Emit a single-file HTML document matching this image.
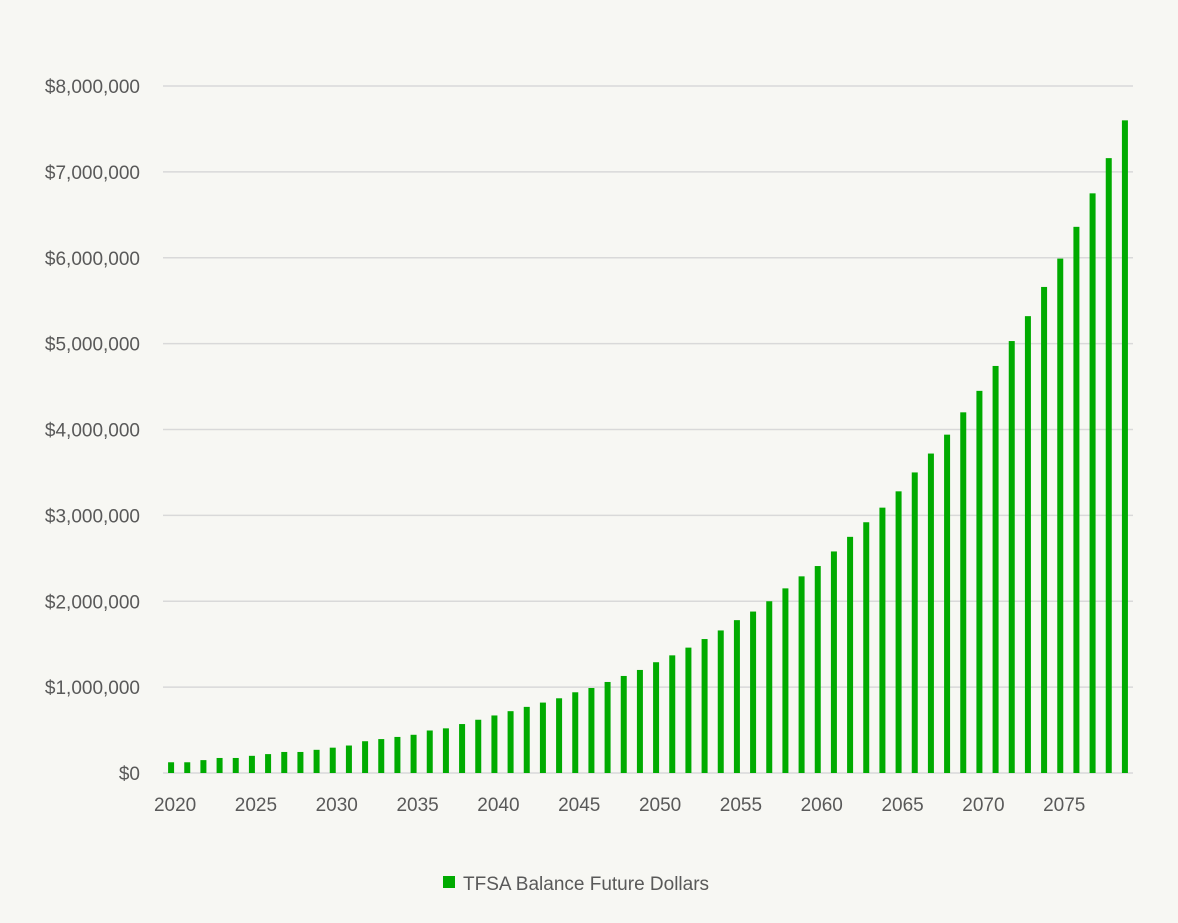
<!DOCTYPE html>
<html><head><meta charset="utf-8"><style>
body{margin:0;background:#f7f7f3;}
svg{display:block;font-family:"Liberation Sans",sans-serif;}
</style></head><body>
<svg id="chart" width="1178" height="923">
<rect width="1178" height="923" fill="#f7f7f3"/>
<g id="grid"></g><g id="bars"></g><g id="ylabels"></g><g id="xlabels"></g>
<g>
<rect x="443" y="876" width="12" height="12" fill="#00ab00"/>
<text x="463" y="890" font-size="19" fill="#595959">TFSA Balance Future Dollars</text>
</g>
</svg>
<script>
const years=[];for(let y=2020;y<=2079;y++)years.push(y);
const balances=[0.125,0.125,0.15,0.175,0.175,0.2,0.22,0.245,0.245,0.27,0.295,0.32,0.37,0.395,0.42,0.445,0.495,0.52,0.57,0.62,0.67,0.72,0.77,0.82,0.87,0.94,0.99,1.06,1.13,1.2,1.29,1.37,1.46,1.56,1.66,1.78,1.88,2.0,2.15,2.29,2.41,2.58,2.75,2.92,3.09,3.28,3.5,3.72,3.94,4.2,4.45,4.74,5.03,5.32,5.66,5.99,6.36,6.75,7.16,7.6].map(v=>v*1e6);
const yTicks=[0,1e6,2e6,3e6,4e6,5e6,6e6,7e6,8e6];
const yTickLabels=["$0","$1,000,000","$2,000,000","$3,000,000","$4,000,000","$5,000,000","$6,000,000","$7,000,000","$8,000,000"];
const NS="http://www.w3.org/2000/svg";
const x0=163,x1=1133,yBase=773,yTop=86,yMax=8e6;
const band=(x1-x0)/years.length;
const xS=i=>x0+band*(i+0.5);
const yS=v=>yBase-(v/yMax)*(yBase-yTop);
function mk(t,a){const e=document.createElementNS(NS,t);for(const k in a)e.setAttribute(k,a[k]);return e;}
const grid=document.getElementById('grid'),bars=document.getElementById('bars'),yl=document.getElementById('ylabels'),xl=document.getElementById('xlabels');
yTicks.forEach((t,i)=>{
  const l=mk('line',{x1:x0,x2:x1,y1:yS(t),y2:yS(t),stroke:'#d9d9d9','stroke-width':1.5});
  
  
  grid.appendChild(l);
  const tx=mk('text',{x:140,y:yS(t)+7,'text-anchor':'end','font-size':19,fill:'#595959'});
  tx.textContent=yTickLabels[i];
  
  
  yl.appendChild(tx);
});
balances.forEach((v,i)=>{
  const r=mk('rect',{x:xS(i)-3,y:yS(v),width:6,height:yBase-yS(v),fill:'#00ab00'});
  
  
  bars.appendChild(r);
  if(years[i]%5===0){
    const tx=mk('text',{x:xS(i)+4,y:811,'text-anchor':'middle','font-size':19,fill:'#595959'});
    tx.textContent=years[i];
    
    
    xl.appendChild(tx);
  }
});
</script>
</body></html>
